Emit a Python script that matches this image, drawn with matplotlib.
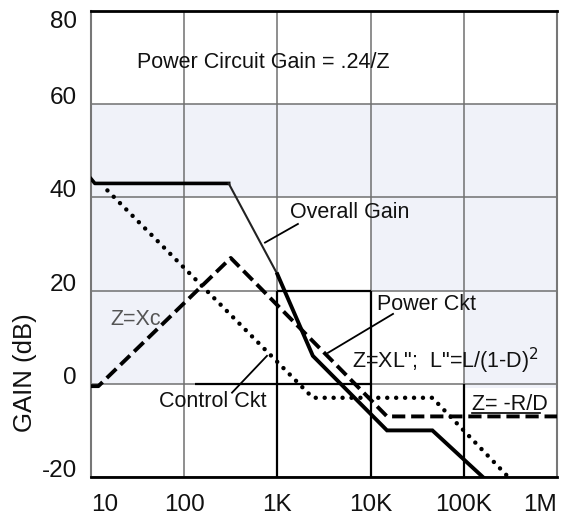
"""Gain vs frequency plot for the power / control circuit loop."""

import matplotlib
matplotlib.use("Agg")
import matplotlib.pyplot as plt

# frequency axis (Hz) and gain axis (dB)
freq_ticks = [10, 100, 1e3, 1e4, 1e5, 1e6]
freq_labels = ["10", "100", "1K", "10K", "100K", "1M"]
gain_ticks = [-20, 0, 20, 40, 60, 80]
gain_labels = ["-20", "0", "20", "40", "60", "80"]

# overall gain (solid)
overall_f = [10, 11, 300, 1000, 2400, 15000, 46000, 160000]
overall_db = [44, 43, 43, 23.5, 6, -10, -10, -20]

# power circuit (dashed)
power_f = [10, 12, 316, 15000, 1e6]
power_db = [-0.5, -0.5, 27, -7, -7]

# control circuit (dotted)
control_f = [15, 2400, 46000, 300000]
control_db = [41.5, -3, -3, -20]

# light bleed-through patches of the scanned page: (f0, f1, db0, db1)
shade_f0 = [10, 10, 1e4, 1e5]
shade_f1 = [1e6, 100, 1e6, 1e6]
shade_db0 = [40, 0, 20, -1]
shade_db1 = [60, 40, 40, 20]

plt.rcParams["font.family"] = ["Liberation Sans", "DejaVu Sans"]

fig = plt.figure(figsize=(5.71, 5.19), dpi=100)
ax = fig.add_axes([91 / 571, 42 / 519, 466 / 571, 466 / 519])
ax.set_xscale("log")
ax.set_xlim(10, 1e6)
ax.set_ylim(-20, 80)

for f0, f1, d0, d1 in zip(shade_f0, shade_f1, shade_db0, shade_db1):
    ax.fill_between([f0, f1], d0, d1, color="#f0f2f9", lw=0, zorder=0)

ax.set_xticks(freq_ticks)
ax.set_xticklabels(freq_labels)
ax.set_yticks(gain_ticks)
ax.set_yticklabels(gain_labels)
ax.minorticks_off()
ax.grid(True, color="#707070", lw=1.1, zorder=0.5)
ax.set_axisbelow(True)
ax.tick_params(length=0, labelsize=17.5, colors="#111111")
ax.tick_params(axis="x", pad=12)
ax.tick_params(axis="y", pad=10)

# the scan prints some grid lines darker in the lower right
ax.vlines([1e3, 1e4], -20, 20, color="black", lw=1.6, zorder=0.6)
ax.vlines([1e5], -20, 0, color="black", lw=1.6, zorder=0.6)
ax.hlines([20], 1e3, 1e4, color="black", lw=1.6, zorder=0.6)
ax.hlines([0], 130, 1e4, color="black", lw=1.6, zorder=0.6)

for lab in ax.get_yticklabels():
    lab.set_va("top" if lab.get_text() == "80" else "baseline")
xlabs = ax.get_xticklabels()
xlabs[0].set_ha("left")
xlabs[-1].set_ha("right")

for side in ["top", "bottom"]:
    ax.spines[side].set_color("black")
    ax.spines[side].set_linewidth(2)
for side in ["left", "right"]:
    ax.spines[side].set_color("#777777")
    ax.spines[side].set_linewidth(1.5)

# overall gain: the roll-off between 300 Hz and 1K prints thinner
ax.plot(overall_f[:3], overall_db[:3], color="black", lw=2.6, zorder=3)
ax.plot(overall_f[2:4], overall_db[2:4], color="#222222", lw=1.5, zorder=3)
ax.plot(overall_f[3:], overall_db[3:], color="black", lw=2.8,
        solid_joinstyle="miter", zorder=3)
ax.plot(power_f, power_db, color="black", lw=2.8, dashes=(3.4, 1.5), zorder=3)
ax.plot(control_f, control_db, color="black", lw=3.2, linestyle=(0, (0.01, 2.0)),
        dash_capstyle="round", zorder=3)

fig.text(25 / 571, 1 - 373 / 519, "GAIN (dB)", rotation=90, fontsize=18.5,
         ha="center", va="center", color="#111111")

txt = dict(fontsize=15.5, color="#111111", va="center")
ax.text(31, 69, "Power Circuit Gain = .24/Z", ha="left", **txt)
ax.text(1365, 36.7, "Overall Gain", ha="left", **txt)
ax.text(30.4, 13.9, "Z=Xc", ha="center", fontsize=15.5, color="#555555", va="center")
ax.text(200, -3.9, "Control Ckt", ha="center", **txt)
ax.text(11700, 17.0, "Power Ckt", ha="left", **txt)
ax.text(6300, 4.9, 'Z=XL";  L"=L/(1-D)$^2$', ha="left", **txt)
ax.text(122000, -4.5, "Z= -R/D", ha="left", **txt)

# leader lines and underline
lead = dict(color="black", lw=1.3, zorder=4)
ax.plot([736, 1660], [30.3, 34.3], **lead)
ax.plot([326, 773], [-1.9, 6.0], **lead)
ax.plot([17400, 3490], [15.0, 6.65], **lead)
ax.plot([122000, 650000], [-6.2, -6.2], color="black", lw=1.2, zorder=4)

fig.savefig("out.png", dpi=100)
